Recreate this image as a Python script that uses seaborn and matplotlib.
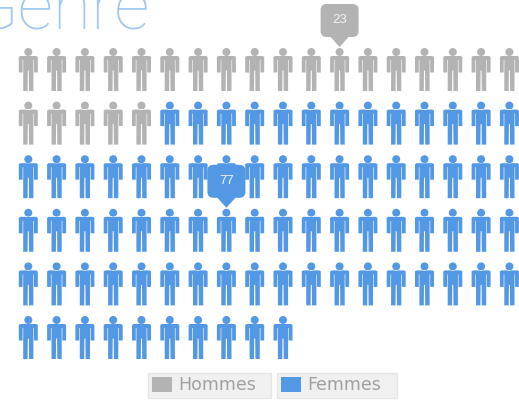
import numpy as np
import pandas as pd
import seaborn as sns
import matplotlib.pyplot as plt
from matplotlib.path import Path
from matplotlib.patches import Patch

# data
title = "Genre"
genres = ["Hommes", "Femmes"]
counts = [23, 77]
colors = ["#b3b3b3", "#5398e4"]
# where the two value bubbles sit (column, row of the figure they point at)
bubble_cols = [11, 7]
bubble_rows = [0, 3]

per_row = 18
W, H = 519, 403
col_step = 28.3
row_step = 53.6
row_center = 69.5


def person_marker():
    # pixels around the centre of the figure, y going up
    body = [(-9.5, 12.5), (-8, 13.5), (8, 13.5), (9.5, 12.5), (9.5, -3), (5.7, -3), (5.7, 9.5), (5.1, 9.5),
            (5.1, -21.5), (0.7, -21.5), (0.5, -1), (-0.5, -1), (-0.7, -21.5), (-5.1, -21.5),
            (-5.1, 9.5), (-5.7, 9.5), (-5.7, -3), (-9.5, -3), (-9.5, 12.5)]
    codes = [Path.MOVETO] + [Path.LINETO] * (len(body) - 2) + [Path.CLOSEPOLY]
    torso = Path(body, codes)
    head = Path.circle((0, 17.5), 4)
    return Path.make_compound_path(torso, head)


def bubble_marker():
    l, r, b, t, c = -19, 19, 32.5, 65.5, 6
    v = [(-9, b), (0, 22.5), (9, b), (r - c, b), (r, b), (r, b + c), (r, t - c), (r, t), (r - c, t),
         (l + c, t), (l, t), (l, t - c), (l, b + c), (l, b), (l + c, b), (-9, b)]
    k = [Path.MOVETO, Path.LINETO, Path.LINETO, Path.LINETO, Path.CURVE3, Path.CURVE3, Path.LINETO,
         Path.CURVE3, Path.CURVE3, Path.LINETO, Path.CURVE3, Path.CURVE3, Path.LINETO, Path.CURVE3,
         Path.CURVE3, Path.CLOSEPOLY]
    return Path(v, k)


def marker_size(path):
    # matplotlib scales a custom marker on its largest coordinate
    px = 2 * np.abs(path.vertices).max()
    return (px * 72 / 100) ** 2


idx = np.arange(sum(counts))
df = pd.DataFrame({
    "col": idx % per_row,
    "row": idx // per_row,
    "genre": np.repeat(genres, counts),
})

fig = plt.figure(figsize=(W / 100, H / 100), dpi=100)
ax = fig.add_axes([0, 0, 1, 1])

person = person_marker()
sns.scatterplot(data=df, x="col", y="row", hue="genre", hue_order=genres,
                palette=colors, marker=person, s=marker_size(person),
                linewidth=0, legend=False, ax=ax)

bubbles = pd.DataFrame({"col": bubble_cols, "row": bubble_rows, "genre": genres})
bubble = bubble_marker()
sns.scatterplot(data=bubbles, x="col", y="row", hue="genre", hue_order=genres,
                palette=colors, marker=bubble, s=marker_size(bubble),
                linewidth=0, legend=False, zorder=5, ax=ax)

for c, r, n in zip(bubble_cols, bubble_rows, counts):
    ax.annotate(str(n), xy=(c, r), xytext=(0, 35.3), textcoords="offset points",
                ha="center", va="center", color="#f2f2f2", fontsize=9.5,
                family="Liberation Sans", zorder=6)

ax.set_xlim(-1, W / col_step - 1)
ax.set_ylim((H - row_center) / row_step, -row_center / row_step)
ax.axis("off")

fig.text(-30 / W, 1 - 30 / H, title, color="#9fc8f2", fontsize=50, family="Roboto",
         fontweight=100, ha="left", va="baseline")

# one framed legend per genre
fs = 12.5
px = fs * 100 / 72
for g, c, x0, w in zip(genres, colors, [148, 277], [123, 120]):
    leg = fig.legend(handles=[Patch(color=c, linewidth=0)], labels=[g],
                     loc="lower left", bbox_to_anchor=(x0 / W, 1 - 398 / H, w / W, 24 / H),
                     mode="expand", borderaxespad=0, fontsize=fs, labelcolor="#a0a0a0",
                     handlelength=20 / px, handleheight=17 / px, handletextpad=7 / px,
                     borderpad=3.5 / px, fancybox=False, framealpha=1,
                     facecolor="#f0f0f0", edgecolor="#e6e6e6")

fig.savefig("out.png", dpi=100)
